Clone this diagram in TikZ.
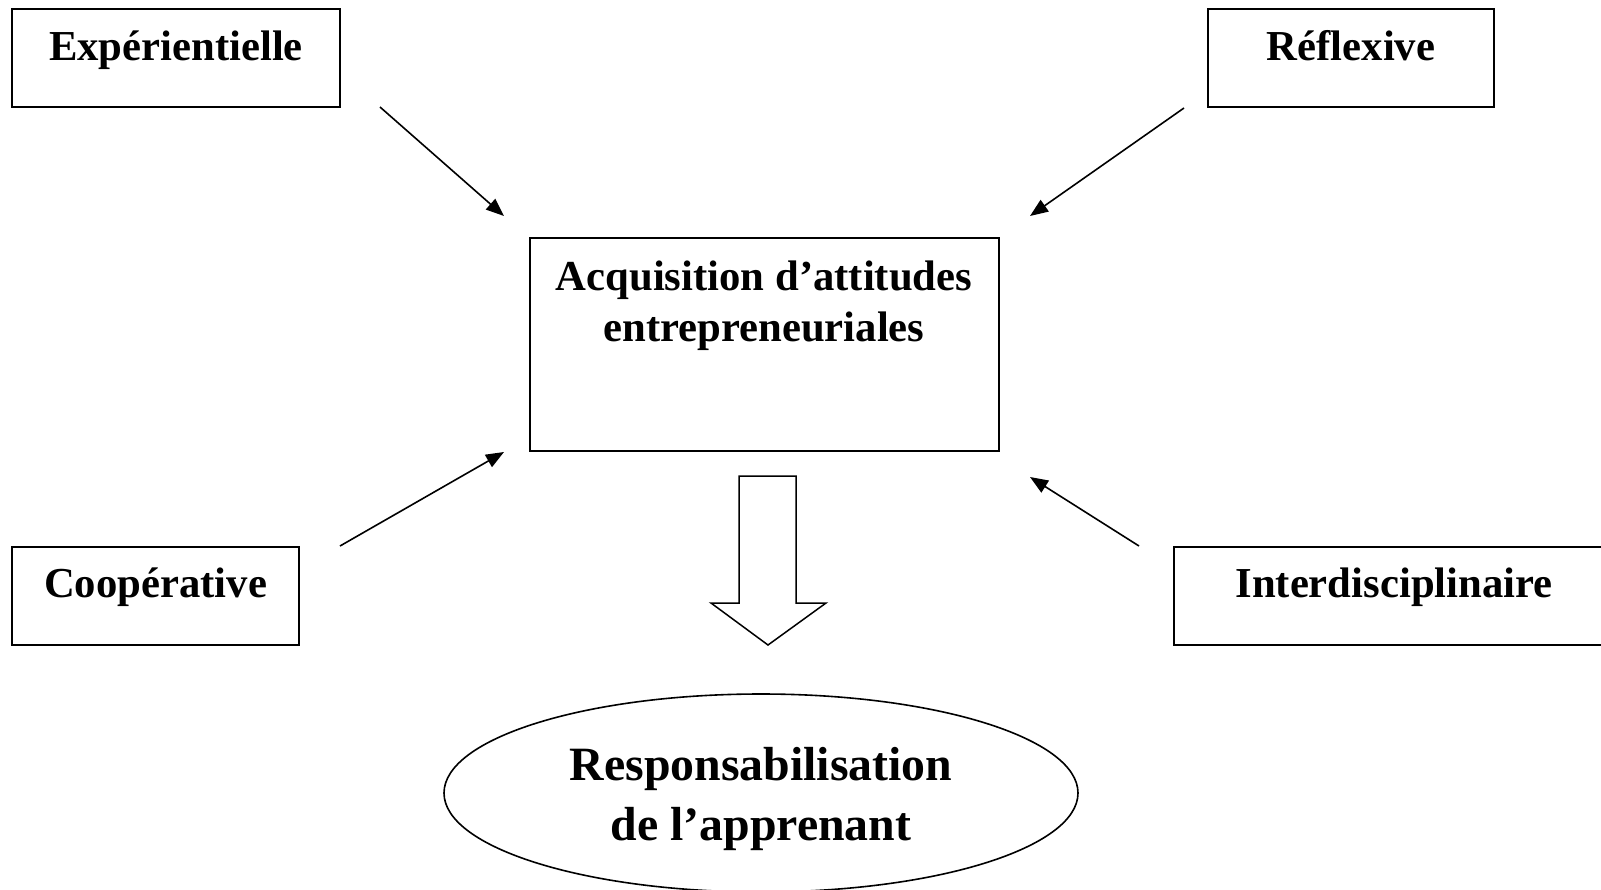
\documentclass[tikz,border=0pt]{standalone}
\usepackage{fontspec}
\setmainfont{Liberation Serif}
\usetikzlibrary{arrows.meta,shapes.geometric}
\begin{document}
\begin{tikzpicture}[x=0.5pt,y=-0.5pt,
  boxnode/.style={draw, line width=1pt, rectangle, inner sep=0pt, minimum height=49pt},
  lbl/.style={font=\fontsize{21.35}{25.5}\selectfont\bfseries, inner sep=0pt, anchor=base},
  mlbl/.style={font=\fontsize{21.35}{25.5}\selectfont\bfseries, inner sep=0pt, align=center},
  biglbl/.style={font=\fontsize{23.9}{30}\selectfont\bfseries, inner sep=0pt, align=center},
  arr/.style={line width=0.8pt, -{Triangle[length=9pt,width=7pt]}}]
\useasboundingbox (0,0) rectangle (1601,889);
% boxes
\node[boxnode, minimum width=164pt] (exp) at (176,58) {};
\node[boxnode, minimum width=143pt] (ref) at (1351,58) {};
\node[boxnode, minimum width=143.5pt] (coo) at (155.5,596) {};
\node[boxnode, minimum width=220pt] (int) at (1394,596) {};
\node[draw, line width=1pt, rectangle, inner sep=0pt, minimum width=234.5pt, minimum height=106.5pt] (acq) at (764.5,344.5) {};
\node[draw, line width=0.8pt, ellipse, inner sep=0pt, minimum width=317pt, minimum height=99pt] (resp) at (761,793) {};
% labels
\node[lbl] (expt) at (176,60) {Expérientielle};
\node[lbl] (reft) at (1351,60) {Réflexive};
\node[lbl] (coot) at (155.5,597) {Coopérative};
\node[lbl] (intt) at (1394,597) {Interdisciplinaire};
\node[mlbl] (acqt) at (764,306) {Acquisition d’attitudes\\entrepreneuriales};
\node[biglbl] (respt) at (761,799) {Responsabilisation\\de l’apprenant};
% thin arrows
\coordinate (a1s) at (380,107); \coordinate (a1e) at (504,216);
\coordinate (a2s) at (1184,108); \coordinate (a2e) at (1030,216);
\coordinate (a3s) at (340,546); \coordinate (a3e) at (504,452);
\coordinate (a4s) at (1139,546); \coordinate (a4e) at (1030,477);
\draw[arr] (a1s) -- (a1e);
\draw[arr] (a2s) -- (a2e);
\draw[arr] (a3s) -- (a3e);
\draw[arr] (a4s) -- (a4e);
% block arrow
\draw[line width=0.75pt, line join=miter] (739,476) -- (796,476) -- (796,603) -- (826,603) -- (768,645) -- (711,603) -- (739,603) -- cycle;
\end{tikzpicture}
\end{document}
